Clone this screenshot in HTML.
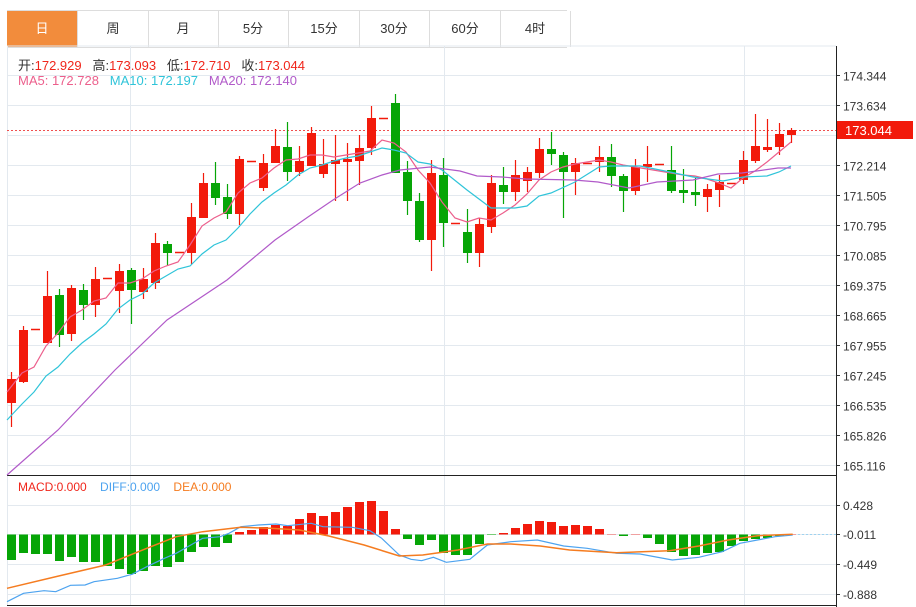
<!DOCTYPE html>
<html><head><meta charset="utf-8"><style>
body{margin:0;background:#fff;width:916px;height:607px;overflow:hidden;font-family:"Liberation Sans","Noto Sans CJK SC",sans-serif;}
.tabs{position:absolute;left:7px;top:10px;height:36px;width:560px;border-top:1px solid #ddd;border-bottom:1px solid #ddd;}
.tab{position:absolute;top:0;height:36px;line-height:36px;text-align:center;font-size:13px;color:#333;border-right:1px solid #ddd;width:70px;}
.on{background:#f28c3c;color:#fff;}
.t{position:absolute;font-size:13px;white-space:nowrap;}
</style></head><body>
<div class="tabs">
<div class="tab on" style="left:0">日</div><div class="tab" style="left:71px">周</div><div class="tab" style="left:141px">月</div><div class="tab" style="left:211px">5分</div><div class="tab" style="left:282px">15分</div><div class="tab" style="left:352px">30分</div><div class="tab" style="left:423px">60分</div><div class="tab" style="left:493px">4时</div>
</div>
<svg id="s" width="916" height="607" style="position:absolute;left:0;top:0"></svg>
<div class="t" style="left:18px;top:55px;color:#333">开:<span style="color:#f0261b">172.929</span>&nbsp;&nbsp; 高:<span style="color:#f0261b">173.093</span>&nbsp;&nbsp; 低:<span style="color:#f0261b">172.710</span>&nbsp;&nbsp; 收:<span style="color:#f0261b">173.044</span></div>
<div class="t" style="left:18px;top:73px"><span style="color:#ec5f8c">MA5: 172.728</span>&nbsp;&nbsp; <span style="color:#2fc4d9">MA10: 172.197</span>&nbsp;&nbsp; <span style="color:#b15ac9">MA20: 172.140</span></div>
<div class="t" style="left:18px;top:480px;font-size:12px"><span style="color:#f0261b">MACD:0.000</span>&nbsp;&nbsp;&nbsp; <span style="color:#4da3ef">DIFF:0.000</span>&nbsp;&nbsp;&nbsp; <span style="color:#f57c20">DEA:0.000</span></div>
<script>
var s=document.getElementById('s'),h='';
function L(x1,y1,x2,y2,c,w,d){h+='<line x1="'+x1+'" y1="'+y1+'" x2="'+x2+'" y2="'+y2+'" stroke="'+c+'" stroke-width="'+(w||1)+'"'+(d?' stroke-dasharray="'+d+'"':'')+'/>';}
function P(pts,c,w){h+='<polyline fill="none" stroke="'+c+'" stroke-width="'+(w||1.2)+'" points="'+pts.map(function(p){return p.join(',')}).join(' ')+'"/>';}
function T(x,y,t,c,fs){h+='<text x="'+x+'" y="'+y+'" fill="'+c+'" font-size="'+(fs||12)+'" font-family="Liberation Sans, sans-serif">'+t+'</text>';}
var g='#e3e9ef';
L(7,46,836,46,g);
var labs=['174.344','173.634','','172.214','171.505','170.795','170.085','169.375','168.665','167.955','167.245','166.535','165.826','165.116'];
for(var i=0;i<14;i++){var y=Math.round(75+i*30.0)+0.5;L(7,y,836,y,g);L(836,y,840,y,'#333');if(labs[i])T(843,y+5,labs[i],'#333',12);}
[130.5,444.5,744.5].forEach(function(x){L(x,46,x,605,g);});
L(7.5,46,7.5,605,g);
[505,534,564,594].forEach(function(y,i){L(7,y+0.5,836,y+0.5,g);L(836,y+0.5,840,y+0.5,'#333');T(843,y+5,['0.428','-0.011','-0.449','-0.888'][i],'#333',12);});
L(7,475.5,836,475.5,'#222');L(7,605.5,836,605.5,'#222');L(836.5,46,836.5,607,'#222');
var C=[[1,379,403,372,427],[1,330,382,326,383],[2,329],[1,296,343,271,343],[0,295,335,289,347],[1,288,334,285,341],[0,290,305,284,320],[1,279,305,267,317],[2,278],[1,271,291,264,313],[0,270,290,268,324],[1,279,292,268,299],[1,243,283,233,289],[0,244,253,241,265],[2,252],[1,217,253,203,264],[1,183,218,173,218],[0,183,198,162,205],[0,197,214,184,219],[1,159,214,156,225],[2,161],[1,163,188,154,191],[1,146,163,129,163],[0,147,172,122,181],[1,161,172,146,176],[1,133,166,127,166],[1,164,174,139,178],[1,160,164,135,201],[1,159,162,143,201],[1,148,161,135,185],[1,118,148,106,155],[2,118],[0,103,173,94,173],[0,172,201,161,215],[0,201,240,193,242],[1,173,240,160,271],[0,175,223,158,247],[2,223],[0,232,253,209,263],[1,224,253,218,267],[1,183,227,175,233],[0,185,192,167,204],[1,175,192,160,201],[1,172,181,167,192],[1,149,173,138,178],[0,149,154,132,165],[0,155,172,152,218],[1,163,172,158,195],[2,163],[1,157,162,146,172],[0,157,176,144,187],[0,176,191,174,212],[1,167,191,159,195],[1,164,167,146,182],[2,164],[0,170,191,146,193],[0,190,193,169,203],[0,192,195,178,206],[1,189,197,184,212],[1,182,190,175,207],[2,183],[1,160,180,151,184],[1,146,161,114,163],[1,147,150,119,152],[1,134,147,123,155],[1,130,135,128,143]];
var R='#f21a0b',G='#06a506';
L(7,130.5,836,130.5,'#f05050',1,'2,2');
C.forEach(function(c,i){var x=11+12*i;
 if(c[0]==2){L(x-4,c[1]+0.5,x+5,c[1]+0.5,R,1.5);return;}
 var col=c[0]?R:G;L(x+0.5,c[3],x+0.5,c[4],col,1.2);
 h+='<rect x="'+(x-4)+'" y="'+c[1]+'" width="9" height="'+Math.max(1,c[2]-c[1])+'" fill="'+col+'"/>';});
P([[7,392],[22,373],[34,367],[46,346],[58,333],[70,317],[82,310],[94,301],[106,298],[118,283],[130,283],[142,279],[154,271],[166,266],[178,262],[190,245],[202,226],[214,218],[226,212],[238,193],[250,183],[262,178],[274,168],[286,160],[298,159],[310,155],[322,155],[334,157],[346,155],[358,153],[370,151],[382,140],[394,143],[406,152],[418,170],[430,183],[442,202],[455,218],[467,222],[479,218],[491,220],[503,213],[515,205],[527,194],[539,180],[551,172],[563,167],[575,164],[587,162],[599,160],[611,162],[623,165],[635,167],[647,169],[659,171],[671,173],[683,175],[695,176],[707,179],[719,183],[731,188],[743,178],[755,171],[767,162],[779,152],[791,142]],'#ec5f8c');
P([[7,420],[22,404],[34,392],[46,376],[58,367],[70,354],[82,343],[94,334],[106,324],[118,309],[130,300],[142,294],[154,283],[166,276],[178,269],[190,266],[202,254],[214,245],[226,240],[238,228],[250,214],[262,202],[274,193],[286,185],[298,175],[310,168],[322,165],[334,161],[346,158],[358,156],[370,152],[382,148],[394,150],[406,153],[418,162],[430,164],[442,170],[467,190],[491,208],[515,208],[527,206],[539,196],[551,193],[575,182],[599,167],[611,166],[640,166],[670,172],[693,177],[723,181],[743,177],[767,176],[779,172],[791,166]],'#2fc4d9');
P([[7,475],[58,430],[115,370],[167,320],[227,280],[275,240],[308,217],[333,200],[360,183],[382,175],[400,170],[430,167],[460,171],[477,176],[502,177],[526,179],[574,180],[598,182],[629,188],[657,182],[693,180],[718,174],[742,173],[778,168],[791,168]],'#b15ac9');
h+='<rect x="837" y="121" width="76" height="18" fill="#f21a0b"/>';T(845,135,'173.044','#fff',13);
var M=[560,553,554,554,561,557,562,562,566,569,574,571,566,567,562,552,547,547,543,532,530,527,525,526,519,513,516,512,507,502,501,511,529,539,545,540,553,555,555,544,535,533,528,524,521,522,526,525,526,529,534,536,534,538,544,552,556,555,553,552,546,541,539,538,536,534];
L(790,534.5,836,534.5,'#9fd3f0',1,'2,2');
M.forEach(function(v,i){var x=11+12*i-4,z=534.5;var col=v<z?R:G;if(Math.abs(v-z)<1.5){L(x,z,x+9,z,col==R?'#f0a0a0':'#7c7',1);return;}
 h+='<rect x="'+x+'" y="'+Math.min(v,z)+'" width="9" height="'+Math.abs(v-z)+'" fill="'+col+'"/>';});
function cv(a){return a.map(function(p){return [+(p[0]/1.703).toFixed(1),+(470+p[1]/3).toFixed(1)]});}
P(cv([[12,395],[40,370],[75,362],[95,365],[120,346],[145,345],[160,335],[200,325],[225,313],[250,290],[280,265],[300,250],[325,225],[345,205],[375,200],[390,190],[410,170],[440,165],[470,162],[490,167],[530,160],[550,170],[600,172],[630,182],[650,205],[680,255],[700,268],[718,272],[738,262],[760,277],[800,268],[830,225],[870,215],[915,210],[960,228],[1000,235],[1050,250],[1090,252],[1145,270],[1190,262],[1230,245],[1260,220],[1290,210],[1320,200],[1350,195]]),'#4da3ef');
P(cv([[12,355],[100,318],[180,285],[250,235],[300,200],[345,185],[410,172],[460,175],[510,180],[560,198],[620,225],[680,258],[720,255],[780,240],[830,222],[870,222],[920,228],[970,240],[1050,248],[1140,242],[1190,228],[1240,210],[1290,197],[1350,193]]),'#f57c20',1.5);
s.innerHTML=h;
</script>
</body></html>
